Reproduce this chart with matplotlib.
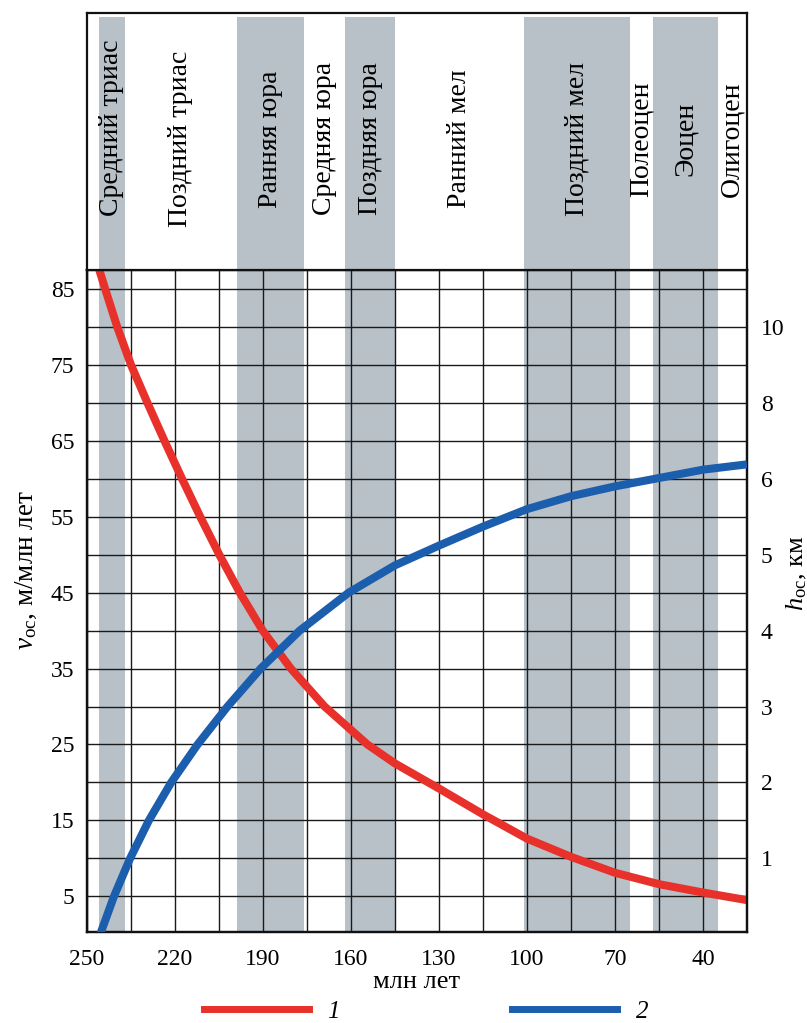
import numpy as np
import matplotlib
matplotlib.use('Agg')
import matplotlib.pyplot as plt
from matplotlib.lines import Line2D

plt.rcParams['font.family'] = ['Liberation Serif', 'DejaVu Serif']
plt.rcParams['mathtext.fontset'] = 'custom'
plt.rcParams['mathtext.rm'] = 'Liberation Serif'
plt.rcParams['mathtext.it'] = 'Liberation Serif:italic'

# Data
# red curve 1: sedimentation rate, m/Myr
age_v = [245.8, 243.8, 239.7, 235, 229.4, 223.6, 217.6, 211.4, 204.9, 197.9, 190.1, 180.5, 169, 154.4,
         145, 130, 115, 100, 85, 70, 55, 40, 25]
v_oc = [87.5, 85, 80, 75, 70, 65, 60, 55, 50, 45, 40, 35, 30, 25,
        22.5, 19.2, 15.8, 12.6, 10.2, 8.1, 6.6, 5.5, 4.5]

# blue curve 2: sediment thickness, km
age_h = [245.5, 240.8, 235.3, 228.9, 221.3, 212.3, 202.1, 190.8, 177.5, 160.8, 145, 130, 115,
         100, 85, 70, 55, 40, 25]
h_oc = [0, 0.5, 1.0, 1.5, 2.0, 2.5, 3.0, 3.5, 4.0, 4.5, 4.86, 5.12, 5.37,
        5.6, 5.77, 5.9, 6.02, 6.24, 6.38]

# stratigraphic intervals (Ma)
periods = ['Средний триас', 'Поздний триас', 'Ранняя юра', 'Средняя юра', 'Поздняя юра',
           'Ранний мел', 'Поздний мел', 'Полеоцен', 'Эоцен', 'Олигоцен']
p_start = [246, 237, 199, 176, 162, 145, 101, 65, 57, 35]
p_end = [237, 199, 176, 162, 145, 101, 65, 57, 35, 25]
p_gray = [True, False, True, False, True, False, True, False, True, False]

x_ticks = [250, 220, 190, 160, 130, 100, 70, 40]
v_ticks = [5, 15, 25, 35, 45, 55, 65, 75, 85]
h_ticks = [1, 2, 3, 4, 5, 6, 8, 10]
h_tick_pos = [10, 20, 30, 40, 50, 60, 70, 80]   # where the right labels sit on the left scale

RED = '#e8312a'
BLUE = '#1c5eae'
GRAY = '#b8c1c7'

# right axis (km) drawn against the left scale, labels unevenly spaced
km_pts = [-5, 0] + h_ticks + [12, 20]
pos_pts = [-50, 0] + h_tick_pos + [90, 130]
def fwd(h):
    return np.interp(h, km_pts, pos_pts)
def inv(p):
    return np.interp(p, pos_pts, km_pts)

fig = plt.figure(figsize=(8.07, 10.23), dpi=100)
L, R = 87 / 807, 747 / 807
B, T = 1 - 932 / 1023, 1 - 270 / 1023
HT = 1 - 13 / 1023

ax = fig.add_axes([L, B, R - L, T - B])
ax.set_xlim(250, 25)
ax.set_ylim(0.3, 87.5)

for s, e, g in zip(p_start, p_end, p_gray):
    if g:
        ax.axvspan(s, e, color=GRAY, lw=0, zorder=1)

ax.set_xticks(x_ticks)
ax.set_xticks(np.arange(25, 251, 15), minor=True)
ax.set_yticks(v_ticks)
ax.set_yticks(np.arange(10, 86, 10), minor=True)
ax.grid(which='both', color='#1a1a1a', lw=1.0)
ax.tick_params(which='both', length=0, labelsize=17)
ax.tick_params(axis='x', pad=12)
ax.tick_params(axis='y', pad=9)

ax.plot(age_v, v_oc, color=RED, lw=5.8, solid_capstyle='butt', solid_joinstyle='round', zorder=3)

ax2 = ax.twinx()
ax2.set_yscale('function', functions=(fwd, inv))
ax2.set_ylim(inv(0.3), inv(87.5))
ax2.set_yticks(h_ticks)
ax2.set_yticklabels([str(t) for t in h_ticks])
ax2.yaxis.set_minor_locator(matplotlib.ticker.NullLocator())
ax2.tick_params(length=0, labelsize=17, pad=10)
ax2.plot(age_h, h_oc, color=BLUE, lw=5.8, solid_capstyle='butt', solid_joinstyle='round', zorder=3)

for a in (ax, ax2):
    for sp in a.spines.values():
        sp.set_linewidth(1.6)
        sp.set_color('#111111')

ax.set_xlabel('млн лет', fontsize=19, labelpad=1)
fig.text(0.033, 0.443, r'$v_{\mathrm{ос}}$, м/млн лет', rotation=90, fontsize=19.5,
         ha='center', va='center')
fig.text(0.987, 0.44, r'$h_{\mathrm{ос}}$, км', rotation=90, fontsize=19,
         ha='center', va='center')

# header with period names
hdr = fig.add_axes([L, T, R - L, HT - T])
hdr.set_xlim(250, 25)
hdr.set_ylim(0, 1)
hdr.set_xticks([])
hdr.set_yticks([])
for sp in hdr.spines.values():
    sp.set_linewidth(1.6)
    sp.set_color('#111111')
for name, s, e, g in zip(periods, p_start, p_end, p_gray):
    if g:
        hdr.axvspan(s, e, ymax=0.985, color=GRAY, lw=0)
    yc = 0.555 if name == 'Средний триас' else 0.51
    hdr.text((s + e) / 2, yc, name, rotation=90, fontsize=20, ha='center', va='center')

handles = [Line2D([], [], color=RED, lw=5), Line2D([], [], color=BLUE, lw=5)]
fig.legend(handles, ['1', '2'], loc='center', bbox_to_anchor=(0.528, 0.011), ncol=2,
           frameon=False, handlelength=4.2, handletextpad=0.75, columnspacing=6.9,
           prop={'size': 18, 'style': 'italic'})

fig.savefig('out.png', dpi=100)
